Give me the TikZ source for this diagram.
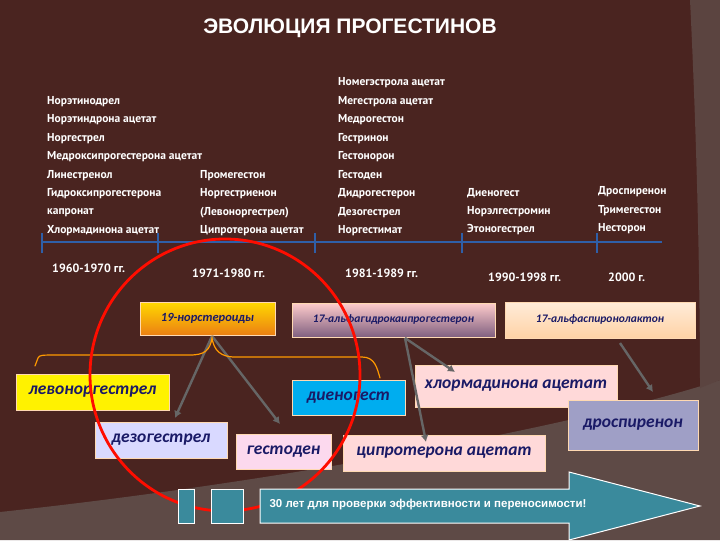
\documentclass[tikz,border=0pt]{standalone}
\usepackage{fontspec}
\setmainfont{Carlito}
\newfontfamily\hd{Liberation Sans}
\newfontfamily\tx{PT Sans}
\usetikzlibrary{arrows.meta,shapes.arrows}
\definecolor{bg}{HTML}{4A2420}
\definecolor{bgl}{HTML}{5E4A46}
\definecolor{ink}{HTML}{1A1A66}
\definecolor{tl}{HTML}{2F5FA8}
\definecolor{teal}{HTML}{3A8A9C}
\begin{document}
\begin{tikzpicture}[x=1pt,y=-1pt,
  lst/.style={anchor=west,text=white,font=\tx\bfseries\fontsize{11.5}{12}\selectfont,inner sep=0pt},
  yr/.style={anchor=west,text=white,font=\tx\bfseries\fontsize{12}{13}\selectfont,inner sep=0pt},
  bx/.style={draw=white!70!orange,line width=0.6pt,text=ink,font=\bfseries\itshape\fontsize{17.5}{18}\selectfont,inner sep=0pt},
  cat/.style={bx,font=\bfseries\itshape\fontsize{12.5}{13}\selectfont},
  arr/.style={draw=gray!80!black,line width=2.4pt,-{Latex[length=7pt,width=8pt]}}]
\fill[bg] (0,0) rectangle (720,540);
\fill[bgl] (0,512) .. controls (300,480) and (600,420) .. (720,380) -- (720,540) -- (0,540) -- cycle;
\fill[bgl!85!bg] (690,0) -- (720,0) -- (720,380) -- (700,388) .. controls (700,250) and (695,100) .. (690,0);
\node[text=white,font=\hd\bfseries\fontsize{21}{24}\selectfont] (title) at (350,28) {ЭВОЛЮЦИЯ ПРОГЕСТИНОВ};
% column 1
\foreach \t [count=\i from 0] in {Норэтинодрел,Норэтиндрона ацетат,Норгестрел,Медроксипрогестерона ацетат,Линестренол,Гидроксипрогестерона,капронат,Хлормадинона ацетат}
  \node[lst] (a\i) at (47,{101.5+18.5*\i}) {\t};
\foreach \t [count=\i from 0] in {Промегестон,Норгестриенон,(Левоноргестрел),Ципротерона ацетат}
  \node[lst] (b\i) at (200,{175.5+18.5*\i}) {\t};
\foreach \t [count=\i from 0] in {Номегэстрола ацетат,Мегестрола ацетат,Медрогестон,Гестринон,Гестонорон,Гестоден,Дидрогестерон,Дезогестрел,Норгестимат}
  \node[lst] (c\i) at (338,{83+18.5*\i}) {\t};
\foreach \t [count=\i from 0] in {Диеногест,Норэлгестромин,Этоногестрел}
  \node[lst] (d\i) at (467,{193+18.5*\i}) {\t};
\foreach \t [count=\i from 0] in {Дроспиренон,Тримегестон,Несторон}
  \node[lst] (e\i) at (598,{192+18.5*\i}) {\t};
% timeline
\coordinate (tA) at (42,242); \coordinate (tB) at (662,242);
\draw[tl,line width=2.5pt] (tA) -- (tB);
\foreach \x in {42,158,315,462,597} \draw[tl,line width=1.5pt] (\x,233) -- (\x,253);
\node[yr] (y1) at (52,268) {1960-1970 гг.};
\node[yr] (y2) at (192,273) {1971-1980 гг.};
\node[yr] (y3) at (345,273) {1981-1989 гг.};
\node[yr] (y4) at (488,277) {1990-1998 гг.};
\node[yr] (y5) at (608,277) {2000 г.};
% boxes
\node[cat,top color=yellow!70!orange,bottom color=orange!70!brown,minimum width=135pt,minimum height=33pt] (nor) at (207.5,318.5) {19-норстероиды};
\node[cat,top color=red!20!white,bottom color=violet!25!gray,minimum width=203pt,minimum height=34pt,font=\bfseries\itshape\fontsize{11.5}{12}\selectfont] (oh) at (393.5,320) {17-альфагидрокаипрогестерон};
\node[cat,top color=orange!15!white,bottom color=orange!35!white,minimum width=190pt,minimum height=36pt,font=\bfseries\itshape\fontsize{11.5}{12}\selectfont] (sp) at (600,320) {17-альфаспиронолактон};
\node[bx,fill=yellow,minimum width=153pt,minimum height=36pt] (lev) at (92.5,392) {левоноргестрел};
\node[bx,fill=cyan,minimum width=113pt,minimum height=35pt] (die) at (348.5,397.5) {диеногест};
\node[bx,fill=red!15!white,minimum width=202pt,minimum height=42pt] (chl) at (516,386) {хлормадинона ацетат};
\node[bx,fill=blue!25!gray!60!white,minimum width=130pt,minimum height=50pt] (dro) at (633,425) {дроспиренон};
\node[bx,fill=blue!15!white,minimum width=132pt,minimum height=36pt] (dez) at (161,440) {дезогестрел};
\node[bx,fill=magenta!15!white,minimum width=95pt,minimum height=35pt] (ges) at (283.5,451.5) {гестоден};
\node[bx,fill=red!15!white,minimum width=202pt,minimum height=36pt] (cyp) at (444,453) {ципротерона ацетат};
% arrows
\coordinate (n0) at (212,336);
\draw[arr] (n0) -- (175,418);
\draw[arr] (n0) -- (280,424);
\coordinate (o0) at (405,338);
\draw[arr] (o0) -- (455,372);
\draw[arr] (o0) -- (426,442);
\draw[arr] (620,343) -- (653,392);
% orange brace
\draw[orange!80!yellow,line width=1.2pt,line cap=round] (35,366) -- (38,358) .. controls (40,355) .. (60,355) -- (190,355) .. controls (205,355) and (210,350) .. (212,338)
  .. controls (214,350) and (220,357) .. (235,357) -- (362,357) .. controls (375,357) and (377,368) .. (380,378);
% red ellipse
\draw[red!90!orange,line width=2.8pt] (225,375) ellipse (135pt and 136pt);
% bottom
\node[draw=white,line width=1pt,fill=teal,minimum width=16pt,minimum height=34pt,inner sep=0pt] (s1) at (186,506) {};
\node[draw=white,line width=1pt,fill=teal,minimum width=32pt,minimum height=34pt,inner sep=0pt] (s2) at (227,506) {};
\draw[white,line width=1pt,fill=teal] (260,489) -- (569,489) -- (569,472) -- (700,506) -- (569,540) -- (569,523) -- (260,523) -- cycle;
\node[text=white,font=\hd\bfseries\fontsize{11.5}{12}\selectfont,anchor=west] (msg) at (266,505) {30 лет для проверки эффективности и переносимости!};
\end{tikzpicture}
\end{document}
